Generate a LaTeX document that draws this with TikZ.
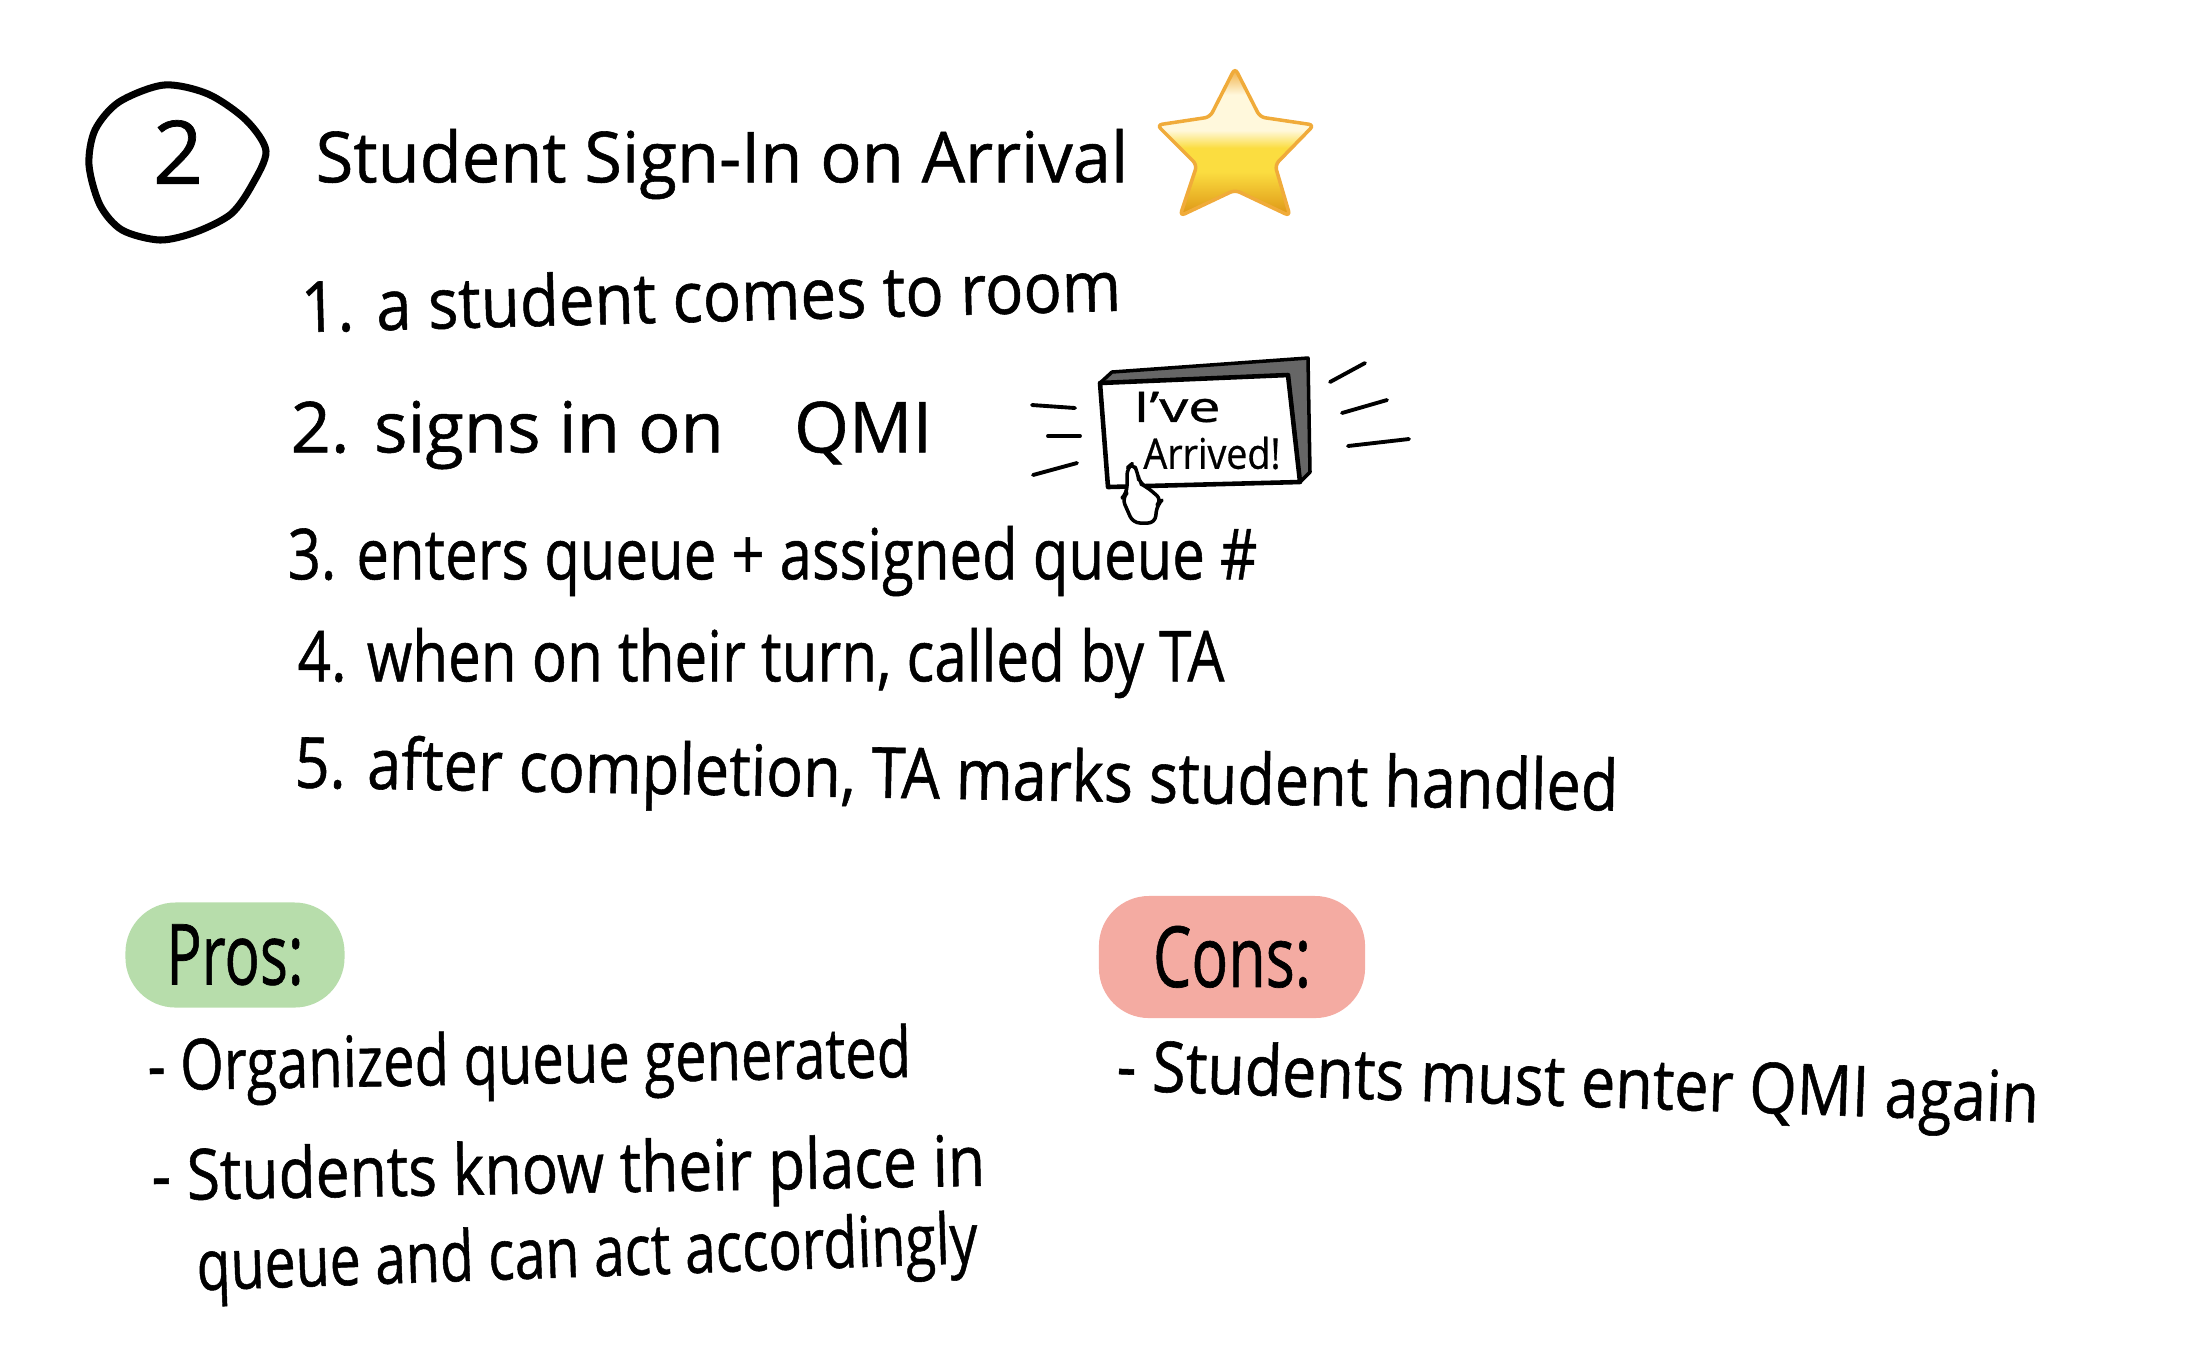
\documentclass[tikz,border=0pt]{standalone}
\usepackage{graphicx}
\usepackage{fontspec}
\setmainfont[FakeBold=0.8]{Open Sans}
\definecolor{prosgreen}{HTML}{B7DDAB}
\definecolor{consred}{HTML}{F4ABA2}
\definecolor{stargold}{HTML}{DD9414}
\definecolor{staryellow}{HTML}{FBDD40}
\definecolor{starcream}{HTML}{FFF8DC}
\definecolor{staredge}{HTML}{F0AB3A}
\pgfdeclareverticalshading{starglow}{100bp}{color(0bp)=(stargold); color(25bp)=(stargold); color(40bp)=(staryellow); color(48bp)=(staryellow); color(54bp)=(starcream); color(66bp)=(starcream); color(75bp)=(staredge); color(100bp)=(staredge)}
\newcommand{\handline}[2]{\resizebox{#1}{\height}{#2}}
\begin{document}
\begin{tikzpicture}[x=0.01cm, y=-0.01cm,
    hand/.style={anchor=west, inner sep=0pt, font=\fontsize{20}{24}\selectfont},
    pill/.style={rounded corners=0.5cm, inner sep=0pt, font=\fontsize{24}{28}\selectfont},
    pen/.style={line width=2pt, line cap=round, line join=round},
    ray/.style={line width=1.1pt, line cap=round}]
    \useasboundingbox (0,0) rectangle (2196,1365);

    % Number in its circle
    \draw[pen] plot[smooth cycle] coordinates {(164,85) (208,94) (246,120) (266,151) (252,185) (231,214) (196,232) (160,240) (122,230) (100,205) (89,165) (95,130) (119,102)};
    \node[inner sep=0pt, font=\fontsize{25}{30}\selectfont] (number) at (178,152) {2};

    % Title and star
    \node[hand] (title) at (315,164) {\handline{8.12cm}{Student Sign-In on Arrival}};
    \shadedraw[draw=staredge, line width=1pt, rounded corners=1.5pt, shading=starglow]
        (1235,68) -- (1260,117) -- (1314,125) -- (1275,165) -- (1290,216) -- (1235,190) -- (1180,216) -- (1197,165) -- (1157,125) -- (1210,117) -- cycle;

    % Steps
    \node[hand, rotate=1.5] (step1) at (300,306) {\handline{8.2cm}{1. a student comes to room}};
    \node[hand] (step2) at (290,435) {\handline{6.41cm}{2. signs in on\quad QMI}};
    \node[hand] (step3) at (287,561) {\handline{9.69cm}{3. enters queue + assigned queue \#}};
    \node[hand] (step4) at (297,663) {\handline{9.26cm}{4. when on their turn, called by TA}};
    \node[hand, rotate=-1] (step5) at (294,769) {\handline{13.23cm}{5. after completion, TA marks student handled}};

    % Sign with its button hand
    \filldraw[line width=1pt, fill=black!60, line join=round] (1100,383) -- (1112,372) -- (1308,358) -- (1310,472) -- (1300,482) -- (1288,375) -- cycle;
    \draw[line width=1.3pt, fill=white, line join=round] (1100,383) -- (1288,375) -- (1300,482) -- (1108,487) -- cycle;
    \node[inner sep=0pt, font=\fontsize{12}{14}\selectfont] (ive) at (1177,407) {\handline{0.87cm}{I've}};
    \node[inner sep=0pt, font=\fontsize{12}{14}\selectfont] (arrived) at (1212,453) {\handline{1.37cm}{Arrived!}};
    \draw[line width=1pt, fill=white, line join=round, rounded corners=2pt] (1127,493) -- (1127,468) -- (1133,463) -- (1138,473) -- (1139,483) -- (1147,487) -- (1162,500) -- (1157,505) -- (1155,523) -- (1133,523) -- (1122,498) -- cycle;

    % Rays around the sign
    \draw[ray] (1032,405) -- (1075,408);
    \draw[ray] (1048,436) -- (1080,436);
    \draw[ray] (1033,475) -- (1077,463);
    \draw[ray] (1330,382) -- (1365,363);
    \draw[ray] (1342,413) -- (1387,400);
    \draw[ray] (1348,446) -- (1409,439);

    % Pros
    \node[pill, fill=prosgreen, minimum width=2.19cm, minimum height=1.05cm] (pros) at (235,955) {\handline{1.37cm}{Pros:}};
    \node[hand, rotate=1] (pro1) at (147,1072) {\handline{7.63cm}{- Organized queue generated}};
    \node[hand, rotate=1] (pro2) at (151,1182) {\handline{8.33cm}{- Students know their place in}};
    \node[hand, rotate=2] (pro3) at (196,1272) {\handline{7.81cm}{queue and can act accordingly}};

    % Cons
    \node[pill, fill=consred, minimum width=2.66cm, minimum height=1.22cm] (cons) at (1232,957) {\handline{1.58cm}{Cons:}};
    \node[hand, rotate=-2] (con1) at (1116,1072) {\handline{9.22cm}{- Students must enter QMI again}};
\end{tikzpicture}
\end{document}
